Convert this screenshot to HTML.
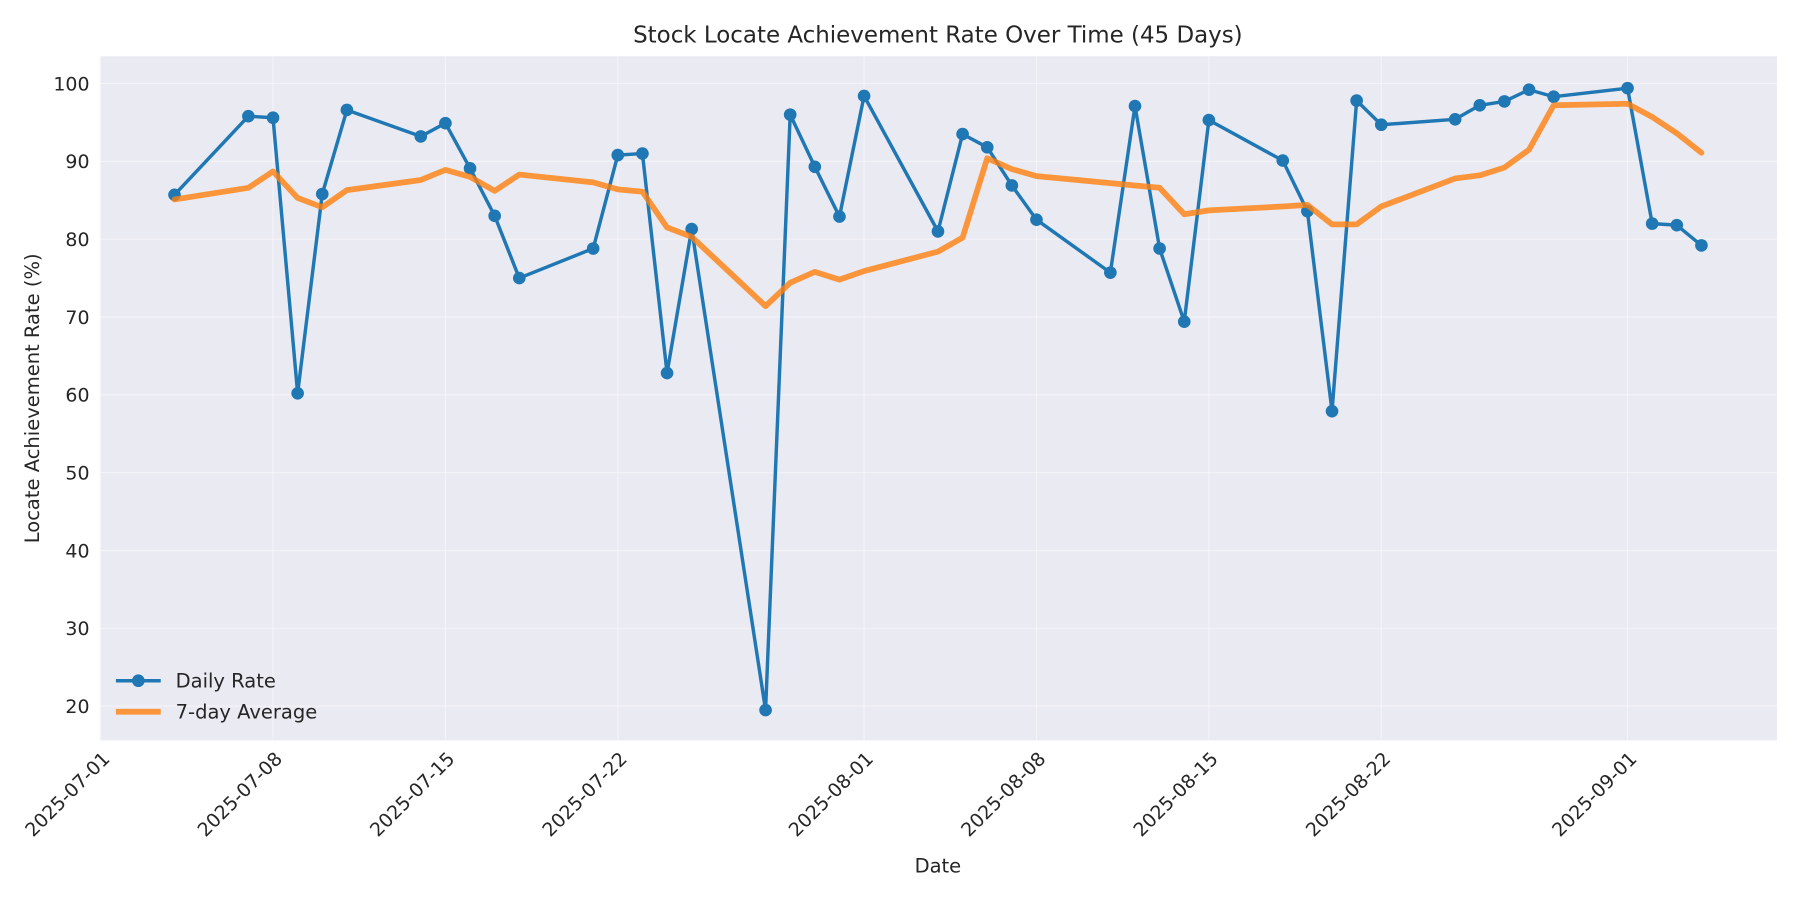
<!DOCTYPE html>
<html><head><meta charset="utf-8"><style>
html,body{margin:0;padding:0;background:#fff;}
svg{display:block;font-family:"DejaVu Sans","Liberation Sans",sans-serif;}
</style></head><body>
<svg id="chart" width="1800" height="900" viewBox="0 0 1568 784" xmlns="http://www.w3.org/2000/svg">
<rect x="0" y="0" width="1568" height="784" fill="#fff"/>
<rect x="87" y="49" width="1461" height="596" fill="#eaeaf2"/>
<g id="grid"></g>
<g id="xticks"></g>
<g id="yticks"></g>
<g id="series"></g>
<text x="817" y="37" text-anchor="middle" font-size="20" fill="#262626">Stock Locate Achievement Rate Over Time (45 Days)</text>
<text x="817" y="760" text-anchor="middle" font-size="17" fill="#262626">Date</text>
<text transform="translate(34,347) rotate(-90)" text-anchor="middle" font-size="17" fill="#262626">Locate Achievement Rate (%)</text>
<g>
  <line x1="101" y1="593" x2="140" y2="593" stroke="#1f77b4" stroke-width="3"/>
  <circle cx="120.5" cy="593" r="5.5" fill="#1f77b4"/>
  <text x="153" y="599" font-size="17" fill="#262626">Daily Rate</text>
  <line x1="101" y1="620" x2="140" y2="620" stroke="#ff7f0e" stroke-opacity="0.8" stroke-width="5"/>
  <text x="153" y="626" font-size="17" fill="#262626">7-day Average</text>
</g>
</svg>
<script>
const days = [3,6,7,8,9,10,13,14,15,16,17,20,21,22,23,24,27,28,29,30,31,34,35,36,37,38,41,42,43,44,45,48,49,50,51,52,55,56,57,58,59,62,63,64,65];
const dailyRate = [85.7,95.8,95.6,60.2,85.8,96.6,93.2,94.9,89.1,83.0,75.0,78.8,90.8,91.0,62.8,81.3,19.5,96.0,89.3,82.9,98.4,81.0,93.5,91.8,86.9,82.5,75.7,97.1,78.8,69.4,95.3,90.1,83.6,57.9,97.8,94.7,95.4,97.2,97.7,99.2,98.3,99.4,82.0,81.8,79.2];
const avg7 = [85.1,86.6,88.7,85.3,84.1,86.3,87.6,88.9,88.0,86.2,88.3,87.3,86.4,86.1,81.5,80.3,71.4,74.4,75.8,74.8,75.9,78.4,80.2,90.4,89.0,88.1,87.2,86.9,86.6,83.2,83.7,84.2,84.4,81.9,81.9,84.2,87.8,88.2,89.2,91.5,97.2,97.4,95.7,93.6,91.1];
const yTicks = [20,30,40,50,60,70,80,90,100];
const xTickDays = [0,7,14,21,31,38,45,52,62];
const xTickLabels = ["2025-07-01","2025-07-08","2025-07-15","2025-07-22","2025-08-01","2025-08-08","2025-08-15","2025-08-22","2025-09-01"];

const NS="http://www.w3.org/2000/svg";
const L=87,R=1548,T=49,B=645;
const xMin=-0.03,xMax=68.07,yMin=15.6,yMax=103.5;
function xs(d){return L+(d-xMin)/(xMax-xMin)*(R-L);}
function ys(v){return B-(v-yMin)/(yMax-yMin)*(B-T);}
function mk(tag,attrs,parent){const e=document.createElementNS(NS,tag);for(const k in attrs)e.setAttribute(k,attrs[k]);parent.appendChild(e);return e;}
const grid=document.getElementById('grid'),xt=document.getElementById('xticks'),yt=document.getElementById('yticks'),ser=document.getElementById('series');
yTicks.forEach(v=>{
  const y=ys(v);
  const g=mk('line',{x1:L,x2:R,y1:y,y2:y,stroke:'#fff','stroke-opacity':0.45,'stroke-width':1},grid);
  
  
  const t=mk('text',{x:L-9,y:y+6,'text-anchor':'end','font-size':16.5,fill:'#262626'},yt);
  
  
  t.textContent=v;
});
xTickDays.forEach((d,i)=>{
  const x=xs(d);
  const g=mk('line',{x1:x,x2:x,y1:T,y2:B,stroke:'#fff','stroke-opacity':0.45,'stroke-width':1},grid);
  
  
  const t=mk('text',{transform:`translate(${x+9},${B+17}) rotate(-45)`,'text-anchor':'end','font-size':16.5,fill:'#262626'},xt);
  
  
  t.textContent=xTickLabels[i];
});
const dp=days.map((d,i)=>xs(d)+','+ys(dailyRate[i])).join(' ');
const ap=days.map((d,i)=>xs(d)+','+ys(avg7[i])).join(' ');
const dl=mk('polyline',{points:dp,fill:'none',stroke:'#1f77b4','stroke-width':3,'stroke-linejoin':'round'},ser);


days.forEach((d,i)=>{
  const c=mk('circle',{cx:xs(d),cy:ys(dailyRate[i]),r:5.5,fill:'#1f77b4'},ser);
  
  
});
const al=mk('polyline',{points:ap,fill:'none',stroke:'#ff7f0e','stroke-opacity':0.8,'stroke-width':5,'stroke-linejoin':'round','stroke-linecap':'round'},ser);


</script>
</body></html>
